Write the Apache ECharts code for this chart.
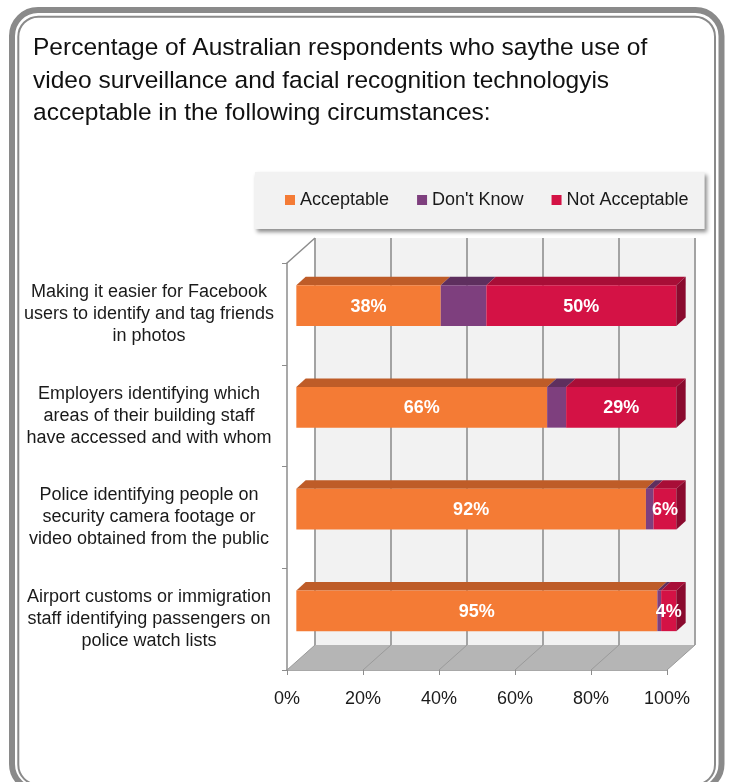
<!DOCTYPE html>
<html><head><meta charset="utf-8">
<script src="https://cdn.jsdelivr.net/npm/echarts@6/dist/echarts.min.js"></script>
<style>html,body{margin:0;padding:0;background:#fff}#c{width:731px;height:782px}</style>
</head><body><div id="c"></div>
<script>
const categories = [
  'Making it easier for Facebook\nusers to identify and tag friends\nin photos',
  'Employers identifying which\nareas of their building staff\nhave accessed and with whom',
  'Police identifying people on\nsecurity camera footage or\nvideo obtained from the public',
  'Airport customs or immigration\nstaff identifying passengers on\npolice watch lists'
];
const seriesNames = ['Acceptable', "Don't Know", 'Not Acceptable'];
const acceptable = [38, 66, 92, 95];
const dontKnow = [12, 5, 2, 1];
const notAcceptable = [50, 29, 6, 4];
const showLabels = [true, false, true];
const xTicks = [0, 20, 40, 60, 80, 100];
const titleText = 'Percentage of Australian respondents who saythe use of\nvideo surveillance and facial recognition technologyis\nacceptable in the following circumstances:';

const FONT = '"Liberation Sans",Arial,sans-serif';
const colors = [
  {front: '#F47B35', top: '#BE5C28', side: '#9A4820'},
  {front: '#7E3F7E', top: '#5E2F5E', side: '#4A234A'},
  {front: '#D41245', top: '#A80E37', side: '#8A0A2E'}
];
const DEPTH = [28, -25];

const values = [acceptable, dontKnow, notAcceptable];
const cum = categories.map(() => 0);
const barSeries = values.map((arr, si) => {
  const data = arr.map((v, ci) => {
    const s = cum[ci]; cum[ci] += v;
    return [s, s + v, ci, v];
  });
  const isLast = si === values.length - 1;
  return {
    name: seriesNames[si],
    type: 'custom',
    z: 5,
    itemStyle: {color: colors[si].front},
    encode: {x: [0, 1], y: 2},
    data: data,
    renderItem: function (params, api) {
      const start = api.value(0), end = api.value(1), cat = api.value(2), val = api.value(3);
      const p0 = api.coord([start, cat]);
      const p1 = api.coord([end, cat]);
      const band = api.size([0, 1])[1];
      const h = band * 0.4;
      const fx = DEPTH[0] / 3, fy = DEPTH[1] / 3;
      const x0 = p0[0] + fx, x1 = p1[0] + fx;
      const top = p0[1] + fy - h / 2, bot = p0[1] + fy + h / 2;
      const children = [];
      children.push({type: 'polygon', shape: {points: [[x0, top], [x1, top], [x1 + fx, top + fy], [x0 + fx, top + fy]]}, style: {fill: colors[si].top}});
      children.push({type: 'rect', shape: {x: x0, y: top, width: x1 - x0, height: h}, style: {fill: colors[si].front}});
      if (isLast) {
        children.push({type: 'polygon', shape: {points: [[x1, top], [x1 + fx, top + fy], [x1 + fx, bot + fy], [x1, bot]]}, style: {fill: colors[si].side}});
      }
      if (showLabels[si]) {
        children.push({type: 'text', x: (x0 + x1) / 2, y: (top + bot) / 2 + 1, z2: 10,
          style: {text: val + '%', fill: '#ffffff', font: 'bold 18px ' + FONT, align: 'center', verticalAlign: 'middle'}});
      }
      return {type: 'group', children: children};
    }
  };
});

const backSeries = {
  type: 'custom',
  silent: true,
  z: 1,
  data: [[0, 0]],
  encode: {x: 0, y: 1},
  renderItem: function (params, api) {
    const cs = params.coordSys;
    const x0 = cs.x, y0 = cs.y, w = cs.width, h = cs.height;
    const dx = DEPTH[0], dy = DEPTH[1];
    const yb = y0 + h;
    const ch = [];
    ch.push({type: 'rect', shape: {x: x0 + dx, y: y0 + dy, width: w, height: h}, style: {fill: '#f2f2f2'}});
    ch.push({type: 'polygon', shape: {points: [[x0, yb], [x0 + w, yb], [x0 + w + dx, yb + dy], [x0 + dx, yb + dy]]}, style: {fill: '#b5b5b5'}});
    xTicks.forEach(function (t) {
      const px = api.coord([t, 0])[0];
      ch.push({type: 'line', shape: {x1: px + dx, y1: y0 + dy, x2: px + dx, y2: yb + dy}, style: {stroke: '#a3a3a3', lineWidth: 2}});
      ch.push({type: 'line', shape: {x1: px, y1: yb, x2: px + dx, y2: yb + dy}, style: {stroke: '#9a9a9a', lineWidth: 1}});
    });
    ch.push({type: 'line', shape: {x1: x0, y1: y0, x2: x0 + dx, y2: y0 + dy}, style: {stroke: '#8c8c8c', lineWidth: 1.5}});
    return {type: 'group', children: ch};
  }
};

const chart = echarts.init(document.getElementById('c'));
chart.setOption({
  animation: false,
  backgroundColor: '#ffffff',
  title: {
    text: titleText, left: 33, top: 32, padding: 0,
    textStyle: {fontFamily: FONT, fontSize: 24.5, lineHeight: 32.5, fontWeight: 'normal', color: '#111111'}
  },
  legend: {
    data: seriesNames, left: 255, top: 172,
    padding: [19, 16, 20, 30], itemGap: 28,
    icon: 'rect', itemWidth: 10, itemHeight: 10,
    backgroundColor: '#f2f2f2',
    shadowBlur: 4, shadowColor: 'rgba(0,0,0,0.45)', shadowOffsetX: 2, shadowOffsetY: 3,
    textStyle: {fontFamily: FONT, fontSize: 18, color: '#1a1a1a'}
  },
  grid: {left: 287, top: 263, width: 380, height: 407},
  xAxis: {
    type: 'value', min: 0, max: 100, interval: 20,
    axisLine: {show: true, lineStyle: {color: '#8c8c8c', width: 1.5}},
    axisTick: {show: true, length: 5, lineStyle: {color: '#8c8c8c'}},
    splitLine: {show: false},
    axisLabel: {formatter: '{value}%', margin: 20, fontFamily: FONT, fontSize: 18, color: '#1a1a1a'}
  },
  yAxis: {
    type: 'category', data: categories, inverse: true,
    axisLine: {show: true, lineStyle: {color: '#8c8c8c', width: 1.5}},
    axisTick: {show: true, length: 5, lineStyle: {color: '#8c8c8c'}},
    axisLabel: {margin: 138, align: 'center', fontFamily: FONT, fontSize: 18, lineHeight: 22, color: '#1a1a1a'}
  },
  graphic: [
    {type: 'rect', silent: true, shape: {x: 12, y: 10, width: 709.5, height: 780, r: 26}, style: {fill: 'none', stroke: '#8a8a8a', lineWidth: 6}},
    {type: 'rect', silent: true, shape: {x: 18.3, y: 16.7, width: 696.7, height: 768, r: 20}, style: {fill: 'none', stroke: '#8a8a8a', lineWidth: 2}}
  ],
  series: [backSeries].concat(barSeries)
});
</script>
</body></html>
